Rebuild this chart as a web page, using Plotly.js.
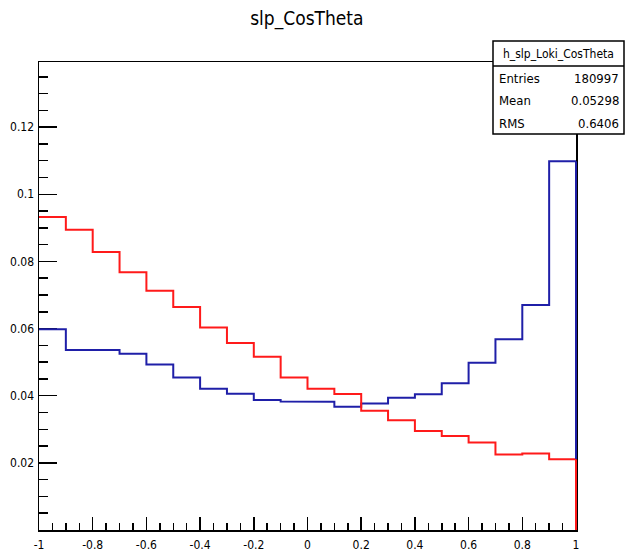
<!DOCTYPE html>
<html>
<head>
<meta charset="utf-8">
<script src="https://cdn.plot.ly/plotly-3.0.1.min.js"></script>
<style>html,body{margin:0;padding:0;background:#fff;}#chart{width:625px;height:553px;}</style>
</head>
<body>
<div id="chart"></div>
<script>
// Bin edges: 20 bins from -1 to 1
const binEdges = [-1,-0.9,-0.8,-0.7,-0.6,-0.5,-0.4,-0.3,-0.2,-0.1,0,0.1,0.2,0.3,0.4,0.5,0.6,0.7,0.8,0.9,1];
const redValues = [0.0932,0.0894,0.0828,0.0768,0.0713,0.0664,0.0603,0.0557,0.0516,0.0454,0.0421,0.0405,0.0355,0.0327,0.0295,0.0280,0.0261,0.0225,0.0228,0.0211];
const blueValues = [0.0598,0.0536,0.0536,0.0525,0.0493,0.0454,0.0421,0.0406,0.0387,0.0383,0.0382,0.0367,0.0377,0.0394,0.0404,0.0437,0.0498,0.0568,0.0670,0.1098];
const xTickVals = [-1,-0.8,-0.6,-0.4,-0.2,0,0.2,0.4,0.6,0.8,1];
const xTickText = ['-1','-0.8','-0.6','-0.4','-0.2','0','0.2','0.4','0.6','0.8','1'];
const yTickVals = [0.02,0.04,0.06,0.08,0.1,0.12];
const yTickText = ['0.02','0.04','0.06','0.08','0.1','0.12'];
const statsTitle = 'h_slp_Loki_CosTheta';
const statsLabels = ['Entries','Mean','RMS'];
const statsValues = ['180997','0.05298','0.6406'];

const BLUE = '#1f1fa8', RED = '#ff1a1a';
const X_RANGE = [-1, 1];

function stepXY(edges, vals) {
  const xs = [], ys = [];
  for (let i = 0; i < vals.length; i++) {
    xs.push(edges[i]); ys.push(vals[i]);
    xs.push(edges[i+1]); ys.push(vals[i]);
  }
  xs.push(edges[edges.length-1]); ys.push(0);
  return {xs, ys};
}
const b = stepXY(binEdges, blueValues);
const r = stepXY(binEdges, redValues);

const FONT = '"Liberation Sans Narrow", "DejaVu Sans Condensed", "Arial Narrow", sans-serif';

const traces = [
  {x: b.xs, y: b.ys, mode: 'lines', line: {color: BLUE, width: 2}, hoverinfo: 'skip'},
  {x: r.xs, y: r.ys, mode: 'lines', line: {color: RED, width: 2}, hoverinfo: 'skip'}
];

const W = 537, H = 468, L = 39, T = 62;
function px(v){ return (v - L)/W; }
function py(v){ return (T + H - v)/H; }

const xEnd = binEdges[binEdges.length-1];
const xEndPaper = (xEnd - X_RANGE[0]) / (X_RANGE[1] - X_RANGE[0]);
const lastRed = redValues[redValues.length-1];
const lastBlue = blueValues[blueValues.length-1];

const shapes = [
  // right-edge closing segments of the histograms (drawn over the frame, as in the original)
  {type:'line', xref:'paper', yref:'y', x0:xEndPaper, x1:xEndPaper, y0:lastRed, y1:lastBlue, line:{color:BLUE, width:2}, layer:'above'},
  {type:'line', xref:'paper', yref:'y', x0:xEndPaper, x1:xEndPaper, y0:0, y1:lastRed, line:{color:RED, width:2}, layer:'above'},
  {type:'rect', xref:'paper', yref:'paper', x0:px(493), x1:px(624), y0:py(134), y1:py(41), line:{color:'#000', width:1.5}, fillcolor:'#fff', layer:'above'},
  {type:'line', xref:'paper', yref:'paper', x0:px(493), x1:px(624), y0:py(66), y1:py(66), line:{color:'#000', width:1.5}, layer:'above'}
];
const annotations = [
  {xref:'paper', yref:'paper', x:px(558.5), y:py(53.5), text:statsTitle, showarrow:false, xanchor:'center', yanchor:'middle', font:{family:FONT, size:12, color:'#000'}}
];
const rowY = [78, 100, 123];
for (let i = 0; i < statsLabels.length; i++) {
  annotations.push({xref:'paper', yref:'paper', x:px(497), y:py(rowY[i]), text:statsLabels[i], showarrow:false, xanchor:'left', yanchor:'middle', font:{family:FONT, size:13, color:'#000'}});
  annotations.push({xref:'paper', yref:'paper', x:px(621), y:py(rowY[i]), text:statsValues[i], showarrow:false, xanchor:'right', yanchor:'middle', font:{family:FONT, size:13, color:'#000'}});
}

const layout = {
  width: 625, height: 553,
  margin: {l: L, r: 625 - L - W, t: T, b: 553 - T - H, pad: 0},
  paper_bgcolor: '#fff', plot_bgcolor: '#fff',
  showlegend: false,
  title: {text: 'slp_CosTheta', x: 0.491, xanchor: 'center', y: 0.967, yanchor: 'middle', font: {family: FONT, size: 19, color: '#000'}},
  xaxis: {
    range: X_RANGE, showgrid: false, zeroline: false, layer: 'below traces',
    showline: true, linecolor: '#000', linewidth: 1.5, mirror: true,
    ticks: 'inside', ticklen: 13, tickwidth: 1.5, tickcolor: '#000',
    tickvals: xTickVals, ticktext: xTickText, ticklabelstandoff: 3,
    tickfont: {family: FONT, size: 12, color: '#000'},
    minor: {dtick: 0.05, tick0: -1, ticks: 'inside', ticklen: 7, tickwidth: 1.5, tickcolor: '#000', showgrid: false}
  },
  yaxis: {
    range: [0, 0.1394], showgrid: false, zeroline: false, layer: 'below traces',
    showline: true, linecolor: '#000', linewidth: 1.5, mirror: true,
    ticks: 'inside', ticklen: 18, tickwidth: 1.5, tickcolor: '#000',
    tickvals: yTickVals, ticktext: yTickText, ticklabelstandoff: 1,
    tickfont: {family: FONT, size: 12, color: '#000'},
    minor: {dtick: 0.005, tick0: 0, ticks: 'inside', ticklen: 9, tickwidth: 1.5, tickcolor: '#000', showgrid: false}
  },
  shapes: shapes,
  annotations: annotations
};

Plotly.newPlot('chart', traces, layout, {displayModeBar: false, staticPlot: true});
</script>
</body>
</html>
